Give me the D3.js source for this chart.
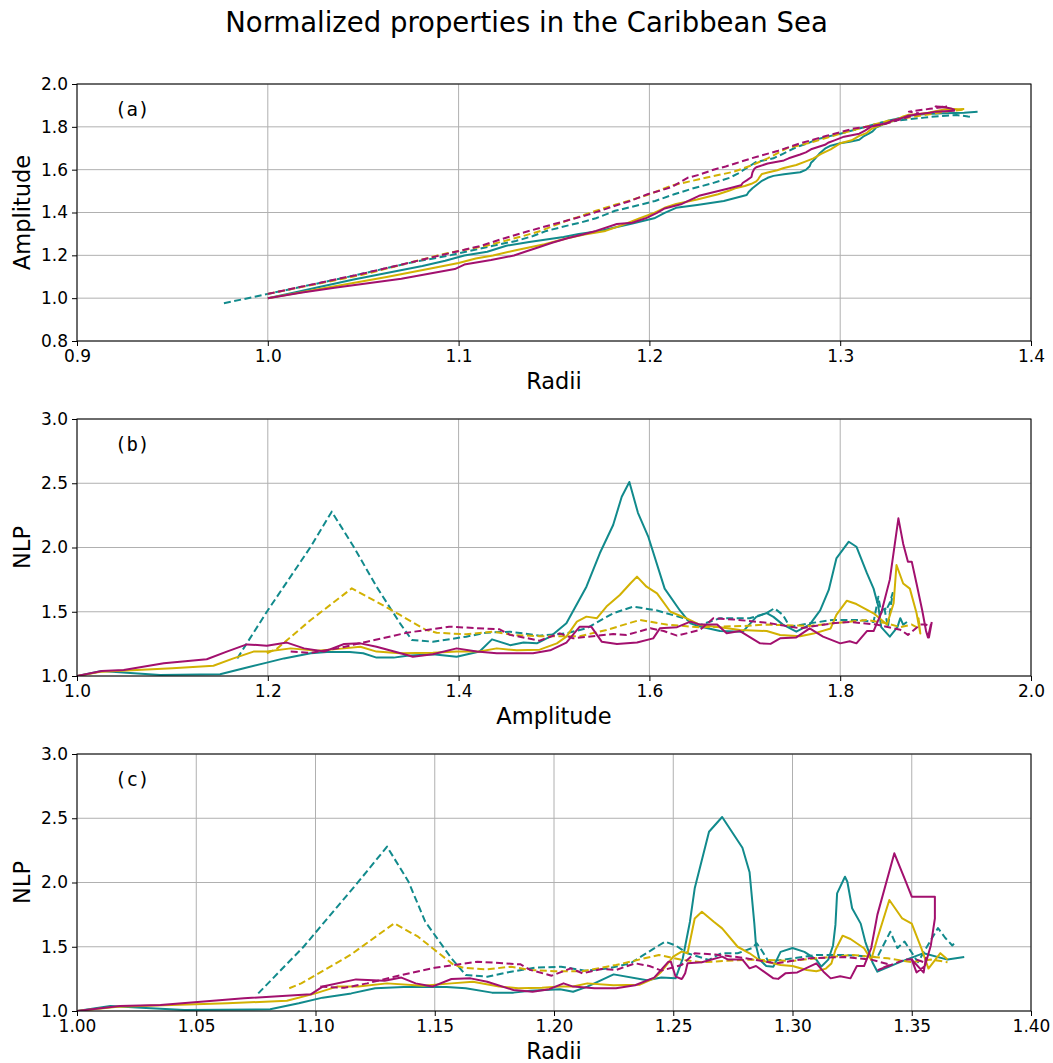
<!DOCTYPE html>
<html>
<head>
<meta charset="utf-8">
<script src="https://cdnjs.cloudflare.com/ajax/libs/d3/7.8.5/d3.min.js"></script>
<style>
  body { margin: 0; background: #fff; }
  svg { font-family: "DejaVu Sans", sans-serif; }
</style>
</head>
<body>
<div id="chart"></div>
<script>
// ── series data: radius, amplitude and NLP sampled at the same time steps ──
const tealSolidRadii = [1.000, 1.014, 1.027, 1.045, 1.081, 1.093, 1.103, 1.115, 1.125, 1.137, 1.155, 1.163, 1.174, 1.183, 1.190, 1.2025, 1.208, 1.214, 1.225, 1.239, 1.245, 1.251, 1.252, 1.254, 1.257, 1.259, 1.262, 1.265, 1.2705, 1.279, 1.282, 1.284, 1.2847, 1.286, 1.287, 1.289, 1.292, 1.295, 1.300, 1.305, 1.310, 1.312, 1.315, 1.317, 1.318, 1.3187, 1.322, 1.323, 1.325, 1.3286, 1.3305, 1.3335, 1.3356, 1.345, 1.355, 1.365, 1.372];
const tealSolidAmp = [1.000, 1.026, 1.052, 1.087, 1.150, 1.175, 1.199, 1.217, 1.245, 1.262, 1.286, 1.300, 1.314, 1.332, 1.346, 1.373, 1.398, 1.422, 1.435, 1.454, 1.468, 1.482, 1.496, 1.513, 1.534, 1.548, 1.562, 1.571, 1.579, 1.588, 1.599, 1.616, 1.632, 1.643, 1.653, 1.674, 1.698, 1.712, 1.723, 1.730, 1.740, 1.754, 1.768, 1.779, 1.788, 1.796, 1.809, 1.817, 1.828, 1.835, 1.840, 1.843, 1.852, 1.860, 1.863, 1.866, 1.870];
const tealSolidNlp = [1.000, 1.039, 1.026, 1.008, 1.013, 1.060, 1.104, 1.137, 1.177, 1.187, 1.187, 1.177, 1.143, 1.143, 1.158, 1.170, 1.150, 1.190, 1.285, 1.240, 1.260, 1.254, 1.306, 1.410, 1.695, 1.955, 2.175, 2.395, 2.510, 2.270, 2.080, 1.680, 1.510, 1.410, 1.385, 1.350, 1.345, 1.460, 1.490, 1.460, 1.400, 1.345, 1.400, 1.510, 1.670, 1.915, 2.045, 2.006, 1.800, 1.680, 1.540, 1.380, 1.306, 1.380, 1.450, 1.400, 1.420];

const tealDashedRadii = [0.977, 1.000, 1.040, 1.076, 1.095, 1.118, 1.130, 1.139, 1.146, 1.157, 1.163, 1.172, 1.182, 1.192, 1.203, 1.213, 1.223, 1.232, 1.242, 1.2466, 1.251, 1.256, 1.265, 1.270, 1.277, 1.283, 1.285, 1.287, 1.290, 1.300, 1.310, 1.322, 1.3356, 1.341, 1.344, 1.347, 1.3526, 1.361, 1.364, 1.367, 1.368];
const tealDashedAmp = [0.976, 1.020, 1.095, 1.168, 1.199, 1.245, 1.267, 1.290, 1.314, 1.3386, 1.351, 1.373, 1.408, 1.429, 1.454, 1.485, 1.513, 1.534, 1.562, 1.583, 1.608, 1.636, 1.653, 1.674, 1.705, 1.723, 1.731, 1.740, 1.747, 1.768, 1.792, 1.821, 1.835, 1.840, 1.843, 1.846, 1.850, 1.855, 1.852, 1.848, 1.847];
const tealDashedNlp = [null, null, null, 1.137, 1.500, 2.006, 2.279, 2.006, 1.695, 1.410, 1.280, 1.267, 1.306, 1.337, 1.345, 1.314, 1.332, 1.371, 1.488, 1.540, 1.510, 1.449, 1.397, 1.449, 1.449, 1.490, 1.527, 1.475, 1.384, 1.410, 1.436, 1.436, 1.420, 1.617, 1.490, 1.540, 1.380, 1.646, 1.570, 1.510, 1.530];

const yellowSolidRadii = [1.000, 1.017, 1.033, 1.063, 1.088, 1.100, 1.109, 1.118, 1.130, 1.145, 1.157, 1.166, 1.177, 1.185, 1.195, 1.2025, 1.208, 1.214, 1.225, 1.236, 1.242, 1.245, 1.250, 1.2535, 1.256, 1.257, 1.258, 1.259, 1.262, 1.267, 1.2705, 1.277, 1.282, 1.286, 1.290, 1.295, 1.300, 1.306, 1.310, 1.314, 1.3163, 1.318, 1.321, 1.3243, 1.330, 1.333, 1.3356, 1.3406, 1.346, 1.350, 1.354, 1.357, 1.362, 1.365];
const yellowSolidAmp = [1.000, 1.026, 1.052, 1.100, 1.143, 1.164, 1.185, 1.199, 1.224, 1.252, 1.280, 1.297, 1.314, 1.3386, 1.373, 1.398, 1.422, 1.440, 1.461, 1.485, 1.503, 1.513, 1.524, 1.534, 1.545, 1.555, 1.569, 1.580, 1.587, 1.597, 1.608, 1.622, 1.639, 1.653, 1.674, 1.695, 1.723, 1.737, 1.758, 1.772, 1.790, 1.796, 1.807, 1.817, 1.835, 1.849, 1.856, 1.859, 1.866, 1.873, 1.880, 1.884, 1.882, 1.883];
const yellowSolidNlp = [1.000, 1.034, 1.042, 1.060, 1.080, 1.137, 1.190, 1.190, 1.215, 1.197, 1.215, 1.228, 1.190, 1.177, 1.180, 1.190, 1.190, 1.215, 1.200, 1.205, 1.254, 1.306, 1.423, 1.462, 1.450, 1.540, 1.630, 1.720, 1.773, 1.695, 1.643, 1.500, 1.449, 1.397, 1.380, 1.358, 1.350, 1.319, 1.310, 1.330, 1.370, 1.475, 1.586, 1.560, 1.488, 1.400, 1.566, 1.864, 1.720, 1.680, 1.490, 1.330, 1.450, 1.400];

const yellowDashedRadii = [1.000, 1.050, 1.089, 1.094, 1.1146, 1.133, 1.143, 1.150, 1.158, 1.162, 1.172, 1.182, 1.190, 1.200, 1.212, 1.226, 1.244, 1.253, 1.262, 1.272, 1.283, 1.300, 1.310, 1.325, 1.340, 1.350, 1.358, 1.365];
const yellowDashedAmp = [1.020, 1.110, 1.199, 1.210, 1.245, 1.288, 1.314, 1.3386, 1.366, 1.377, 1.408, 1.436, 1.457, 1.485, 1.527, 1.555, 1.590, 1.618, 1.653, 1.700, 1.723, 1.768, 1.792, 1.828, 1.849, 1.863, 1.875, 1.880];
const yellowDashedNlp = [null, null, 1.177, 1.215, 1.436, 1.682, 1.578, 1.475, 1.358, 1.337, 1.324, 1.345, 1.319, 1.310, 1.310, 1.358, 1.436, 1.400, 1.379, 1.390, 1.400, 1.390, 1.410, 1.436, 1.410, 1.380, 1.400, 1.380];

const magentaSolidRadii = [1.000, 1.018, 1.035, 1.070, 1.098, 1.103, 1.117, 1.129, 1.136, 1.142, 1.149, 1.157, 1.165, 1.172, 1.183, 1.191, 1.198, 1.204, 1.208, 1.217, 1.226, 1.234, 1.242, 1.248, 1.249, 1.251, 1.2535, 1.254, 1.255, 1.256, 1.262, 1.2705, 1.273, 1.279, 1.282, 1.2847, 1.292, 1.294, 1.297, 1.302, 1.310, 1.313, 1.316, 1.320, 1.3243, 1.327, 1.330, 1.333, 1.3356, 1.3427, 1.347, 1.350, 1.3597, 1.3597, 1.358, 1.3555, 1.352, 1.350, 1.355, 1.356];
const magentaSolidAmp = [1.000, 1.026, 1.049, 1.091, 1.136, 1.157, 1.178, 1.199, 1.220, 1.238, 1.259, 1.280, 1.297, 1.314, 1.346, 1.352, 1.373, 1.398, 1.419, 1.440, 1.478, 1.496, 1.513, 1.527, 1.539, 1.550, 1.566, 1.587, 1.604, 1.611, 1.629, 1.643, 1.653, 1.671, 1.681, 1.695, 1.716, 1.727, 1.737, 1.754, 1.768, 1.782, 1.800, 1.810, 1.817, 1.828, 1.835, 1.843, 1.852, 1.861, 1.866, 1.871, 1.875, 1.880, 1.886, 1.890, 1.892, 1.895, 1.893, 1.896];
const magentaSolidNlp = [1.000, 1.039, 1.047, 1.099, 1.130, 1.190, 1.246, 1.236, 1.260, 1.215, 1.190, 1.249, 1.254, 1.228, 1.163, 1.150, 1.170, 1.215, 1.190, 1.177, 1.177, 1.200, 1.260, 1.384, 1.384, 1.267, 1.249, 1.260, 1.293, 1.371, 1.380, 1.423, 1.400, 1.400, 1.332, 1.350, 1.254, 1.250, 1.293, 1.300, 1.371, 1.306, 1.254, 1.270, 1.254, 1.350, 1.350, 1.490, 1.750, 2.227, 2.030, 1.890, 1.890, 1.720, 1.510, 1.350, 1.300, 1.400, 1.300, 1.420];

const magentaDashedRadii = [1.000, 1.050, 1.102, 1.112, 1.1216, 1.133, 1.150, 1.168, 1.186, 1.190, 1.199, 1.207, 1.212, 1.220, 1.226, 1.234, 1.240, 1.245, 1.2535, 1.259, 1.2675, 1.279, 1.293, 1.307, 1.322, 1.333, 1.341, 1.336, 1.347, 1.352, 1.355];
const magentaDashedAmp = [1.020, 1.115, 1.224, 1.245, 1.273, 1.304, 1.346, 1.390, 1.443, 1.454, 1.485, 1.506, 1.520, 1.562, 1.576, 1.601, 1.615, 1.629, 1.653, 1.667, 1.688, 1.723, 1.758, 1.792, 1.810, 1.838, 1.863, 1.871, 1.884, 1.890, 1.895];
const magentaDashedNlp = [null, null, 1.190, 1.180, 1.215, 1.267, 1.337, 1.384, 1.363, 1.320, 1.275, 1.332, 1.293, 1.327, 1.319, 1.371, 1.350, 1.314, 1.358, 1.449, 1.440, 1.415, 1.371, 1.410, 1.420, 1.400, 1.360, 1.320, 1.400, 1.400, 1.380];

// ── axis ticks ──
const radiiTicksA = [0.9, 1.0, 1.1, 1.2, 1.3, 1.4];
const ampTicksA = [0.8, 1.0, 1.2, 1.4, 1.6, 1.8, 2.0];
const ampTicksB = [1.0, 1.2, 1.4, 1.6, 1.8, 2.0];
const nlpTicks = [1.0, 1.5, 2.0, 2.5, 3.0];
const radiiTicksC = [1.00, 1.05, 1.10, 1.15, 1.20, 1.25, 1.30, 1.35, 1.40];

const series = [
    { color: "#118a8c", dash: null, r: tealSolidRadii, amp: tealSolidAmp, nlp: tealSolidNlp },
    { color: "#118a8c", dash: "7,3.5", r: tealDashedRadii, amp: tealDashedAmp, nlp: tealDashedNlp },
    { color: "#d2b102", dash: null, r: yellowSolidRadii, amp: yellowSolidAmp, nlp: yellowSolidNlp },
    { color: "#d2b102", dash: "7,3.5", r: yellowDashedRadii, amp: yellowDashedAmp, nlp: yellowDashedNlp },
    { color: "#a2106e", dash: null, r: magentaSolidRadii, amp: magentaSolidAmp, nlp: magentaSolidNlp },
    { color: "#a2106e", dash: "7,3.5", r: magentaDashedRadii, amp: magentaDashedAmp, nlp: magentaDashedNlp }
].map(s => ({
    ...s,
    points: s.r.map((r, i) => ({ r: r, amp: s.amp[i], nlp: s.nlp[i] }))
}));

const width = 1053, height = 1063;
const left = 77, right = 1031;

const svg = d3.select("#chart").append("svg")
    .attr("width", width)
    .attr("height", height);

svg.append("text")
    .attr("x", width / 2)
    .attr("y", 32)
    .attr("text-anchor", "middle")
    .attr("font-size", 27.5)
    .text("Normalized properties in the Caribbean Sea");

const panels = [
    { id: "a", top: 84, bottom: 341, xKey: "r", yKey: "amp", xDomain: [0.9, 1.4], yDomain: [0.8, 2.0],
      xTicks: radiiTicksA, yTicks: ampTicksA, xFmt: ".1f", yFmt: ".1f", xLabel: "Radii", yLabel: "Amplitude" },
    { id: "b", top: 419, bottom: 676, xKey: "amp", yKey: "nlp", xDomain: [1.0, 2.0], yDomain: [1.0, 3.0],
      xTicks: ampTicksB, yTicks: nlpTicks, xFmt: ".1f", yFmt: ".1f", xLabel: "Amplitude", yLabel: "NLP" },
    { id: "c", top: 754, bottom: 1011, xKey: "r", yKey: "nlp", xDomain: [1.0, 1.4], yDomain: [1.0, 3.0],
      xTicks: radiiTicksC, yTicks: nlpTicks, xFmt: ".2f", yFmt: ".1f", xLabel: "Radii", yLabel: "NLP" }
];

panels.forEach(p => {
    const x = d3.scaleLinear().domain(p.xDomain).range([left, right]);
    const y = d3.scaleLinear().domain(p.yDomain).range([p.bottom, p.top]);
    const g = svg.append("g");

    // ── grid ──
    g.append("g").selectAll("line").data(p.xTicks).join("line")
        .attr("x1", d => x(d)).attr("x2", d => x(d))
        .attr("y1", p.top).attr("y2", p.bottom)
        .attr("stroke", "#b0b0b0").attr("stroke-width", 1);
    g.append("g").selectAll("line").data(p.yTicks).join("line")
        .attr("x1", left).attr("x2", right)
        .attr("y1", d => y(d)).attr("y2", d => y(d))
        .attr("stroke", "#b0b0b0").attr("stroke-width", 1);

    // ── lines ──
    g.append("clipPath").attr("id", "clip-" + p.id)
        .append("rect")
        .attr("x", left).attr("y", p.top)
        .attr("width", right - left).attr("height", p.bottom - p.top);

    const line = d3.line()
        .defined(d => d[p.xKey] != null && d[p.yKey] != null)
        .x(d => x(d[p.xKey]))
        .y(d => y(d[p.yKey]));

    g.append("g").attr("clip-path", `url(#clip-${p.id})`)
        .selectAll("path").data(series).join("path")
        .attr("d", s => line(s.points))
        .attr("fill", "none")
        .attr("stroke", s => s.color)
        .attr("stroke-width", 2)
        .attr("stroke-linejoin", "round")
        .attr("stroke-dasharray", s => s.dash);

    // ── axes ──
    const xAxis = g.append("g")
        .attr("transform", `translate(0,${p.bottom})`)
        .call(d3.axisBottom(x).tickValues(p.xTicks).tickFormat(d3.format(p.xFmt)).tickSize(5).tickPadding(4));
    const yAxis = g.append("g")
        .attr("transform", `translate(${left},0)`)
        .call(d3.axisLeft(y).tickValues(p.yTicks).tickFormat(d3.format(p.yFmt)).tickSize(5).tickPadding(4));
    [xAxis, yAxis].forEach(a => {
        a.select(".domain").remove();
        a.selectAll("text").attr("font-size", 17).attr("font-family", "DejaVu Sans").attr("fill", "#000");
        a.selectAll("line").attr("stroke", "#000");
    });

    g.append("rect")
        .attr("x", left).attr("y", p.top)
        .attr("width", right - left).attr("height", p.bottom - p.top)
        .attr("fill", "none").attr("stroke", "#000").attr("stroke-width", 1);

    g.append("text")
        .attr("x", (left + right) / 2)
        .attr("y", p.bottom + 48)
        .attr("text-anchor", "middle")
        .attr("font-size", 22.5)
        .text(p.xLabel);

    g.append("text")
        .attr("transform", `translate(30,${(p.top + p.bottom) / 2}) rotate(-90)`)
        .attr("text-anchor", "middle")
        .attr("font-size", 22.5)
        .text(p.yLabel);

    g.append("text")
        .attr("x", 115)
        .attr("y", p.top + 32)
        .attr("font-family", "DejaVu Sans Mono")
        .attr("font-size", 19)
        .text(`(${p.id})`);
});
</script>
</body>
</html>
